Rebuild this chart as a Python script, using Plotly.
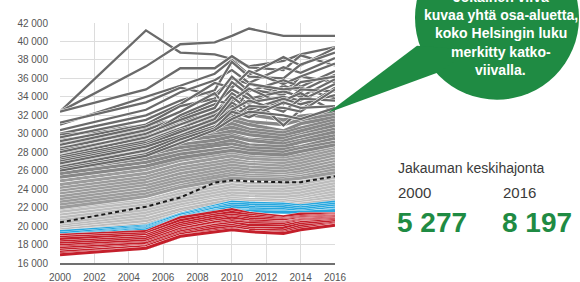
import plotly.graph_objects as go

# ---------------- data (values in thousand euros) ----------------
years = [2000, 2005, 2007, 2009, 2010, 2011, 2013, 2014, 2016]

helsinki = [20.4, 22.1, 23.1, 24.7, 24.95, 24.85, 24.75, 24.75, 25.4]

dark_lines = [
    [32.4, 41.2, 38.8, 38.6, 38.1, 37.3, 37.9, 38.6, 39.4],
    [32.4, 37.3, 39.7, 39.9, 40.6, 41.4, 40.6, 40.6, 40.6],
    [32.4, 34.8, 37.1, 37.1, 38.4, 37.2, 36.9, 38.5, 37.4],
    [31.0, 34.0, 35.2, 36.5, 38.0, 36.4, 38.3, 37.4, 39.3],
    [31.2, 33.4, 35.0, 34.2, 36.0, 35.4, 34.4, 36.2, 35.6],
    [30.4, 32.6, 34.5, 35.8, 36.9, 35.5, 37.2, 36.6, 38.2],
    [30.0, 32.0, 33.6, 34.7, 37.8, 36.2, 36.0, 37.5, 38.8],
    [29.9, 30.6, 31.4, 32.2, 34.4, 33.2, 35.2, 34.6, 36.4],
    [29.6, 31.5, 33.2, 35.5, 35.0, 36.8, 35.4, 36.2, 37.6],
    [29.2, 31.0, 33.0, 33.8, 36.2, 34.6, 35.8, 35.1, 36.8],
    [28.8, 30.8, 32.4, 34.4, 32.1, 34.8, 34.2, 35.6, 36.2],
    [28.4, 30.4, 31.8, 33.2, 34.8, 33.8, 34.6, 34.0, 35.9],
    [28.2, 29.8, 32.0, 33.6, 33.2, 35.4, 34.8, 35.0, 33.8],
    [28.0, 30.0, 31.5, 32.8, 35.6, 34.2, 30.9, 32.6, 35.0],
    [27.6, 29.6, 31.0, 32.4, 33.6, 34.9, 33.2, 34.8, 34.6],
    [27.4, 29.2, 30.6, 32.0, 33.0, 33.4, 34.0, 33.6, 35.4],
    [27.2, 29.0, 30.4, 31.4, 33.4, 32.2, 33.6, 34.4, 32.4],
    [27.0, 28.8, 30.2, 31.6, 34.0, 32.6, 33.8, 33.2, 34.2],
    [26.8, 28.6, 29.8, 31.2, 32.6, 33.6, 32.4, 33.8, 33.6],
    [26.4, 28.2, 29.6, 30.8, 31.8, 33.0, 32.8, 32.4, 34.8],
    [26.2, 27.8, 29.4, 30.6, 32.4, 31.8, 33.4, 32.8, 33.0],
    [26.0, 27.6, 29.0, 30.4, 31.6, 32.4, 32.0, 31.6, 32.8],
]

middark_lines = [
    [29.8, 30.9, 31.5, 31.9, 32.6, 32.1, 31.5, 31.9, 32.3],
    [29.3, 30.3, 31.1, 31.6, 31.9, 31.3, 31.0, 31.5, 32.1],
    [28.9, 30.1, 30.5, 31.2, 31.5, 31.0, 30.3, 31.1, 31.8],
    [28.5, 29.5, 30.3, 30.5, 31.1, 30.5, 30.1, 30.6, 31.5],
    [28.0, 29.3, 29.9, 30.3, 30.7, 30.2, 29.8, 30.3, 31.2],
    [27.6, 28.9, 29.5, 29.9, 30.3, 29.9, 29.5, 29.9, 30.9],
    [27.3, 28.4, 29.3, 29.7, 29.9, 29.4, 29.2, 29.7, 30.5],
    [26.8, 28.1, 28.8, 29.3, 29.7, 29.3, 28.9, 29.3, 30.2],
    [26.5, 27.7, 28.5, 28.9, 29.3, 28.8, 28.6, 29.1, 29.8],
    [26.1, 27.3, 28.1, 28.7, 28.9, 28.5, 28.3, 28.6, 29.5],
    [25.7, 26.9, 27.8, 28.3, 28.5, 28.2, 28.0, 28.4, 29.1],
    [25.3, 26.5, 27.4, 27.9, 28.2, 27.9, 27.7, 28.1, 28.8],
]

mid_lines = [
    [24.9, 26.1, 27.1, 27.6, 27.9, 27.6, 27.4, 27.7, 28.5],
    [24.5, 25.7, 26.7, 27.3, 27.6, 27.3, 27.1, 27.4, 28.2],
    [24.1, 25.3, 26.3, 26.9, 27.2, 26.9, 26.8, 27.1, 27.9],
    [23.8, 25.0, 26.0, 26.6, 26.9, 26.7, 26.5, 26.8, 27.6],
    [23.5, 24.7, 25.7, 26.3, 26.6, 26.4, 26.2, 26.5, 27.3],
    [23.2, 24.4, 25.3, 26.0, 26.3, 26.1, 25.9, 26.2, 27.0],
    [22.9, 24.1, 25.0, 25.7, 26.0, 25.8, 25.6, 25.9, 26.7],
    [22.6, 23.8, 24.7, 25.4, 25.7, 25.5, 25.4, 25.6, 26.4],
    [22.3, 23.5, 24.4, 25.2, 25.5, 25.3, 25.2, 25.4, 26.1],
    [22.0, 23.2, 24.2, 24.9, 25.2, 25.1, 25.0, 25.2, 25.8],
]

light_lines = [
    [21.8, 22.8, 23.8, 24.5, 24.8, 24.6, 24.6, 24.8, 25.5],
    [21.5, 22.6, 23.5, 24.2, 24.5, 24.3, 24.3, 24.5, 25.2],
    [21.2, 22.3, 23.2, 23.9, 24.2, 24.0, 24.0, 24.2, 24.9],
    [20.9, 22.0, 22.9, 23.6, 23.9, 23.8, 23.7, 23.9, 24.6],
    [20.6, 21.7, 22.6, 23.3, 23.6, 23.5, 23.4, 23.6, 24.3],
    [20.3, 21.4, 22.3, 23.0, 23.3, 23.2, 23.1, 23.3, 24.0],
    [20.0, 21.1, 22.0, 22.8, 23.0, 22.9, 22.8, 23.0, 23.7],
    [19.8, 20.8, 21.8, 22.5, 22.8, 22.7, 22.6, 22.8, 23.4],
    [19.6, 20.5, 21.5, 22.3, 22.6, 22.5, 22.4, 22.6, 23.1],
    [19.4, 20.2, 21.3, 22.1, 22.4, 22.3, 22.2, 22.4, 22.8],
]

blue_lines = [
    [19.4, 20.0, 21.3, 22.2, 22.6, 22.5, 22.4, 22.2, 22.6],
    [19.2, 19.9, 21.2, 22.0, 22.4, 22.3, 22.2, 22.0, 22.4],
    [19.0, 19.8, 21.0, 21.9, 22.2, 22.1, 22.0, 21.8, 22.2],
    [18.9, 19.7, 20.9, 21.7, 22.0, 21.9, 21.8, 21.6, 22.0],
    [18.5, 19.5, 20.8, 21.5, 21.8, 21.7, 21.6, 21.4, 21.8],
    [18.7, 19.6, 20.8, 21.6, 21.7, 21.6, 21.5, 21.5, 21.7],
]

red_lines = [
    [19.0, 19.4, 20.9, 21.5, 21.8, 21.4, 21.0, 21.3, 21.3],
    [18.8, 19.2, 20.6, 21.2, 21.5, 21.2, 20.8, 21.0, 21.2],
    [18.6, 19.0, 20.3, 21.0, 21.2, 21.0, 20.7, 20.9, 21.1],
    [18.3, 18.8, 20.1, 20.8, 21.0, 20.8, 20.6, 20.8, 21.0],
    [18.1, 18.6, 19.9, 20.6, 20.9, 20.6, 20.4, 20.7, 20.9],
    [17.9, 18.4, 19.7, 20.4, 20.6, 20.4, 20.3, 20.6, 20.8],
    [17.7, 18.2, 19.5, 20.2, 20.5, 20.3, 20.2, 20.5, 20.7],
    [17.6, 18.1, 19.4, 20.1, 20.3, 20.1, 20.0, 20.4, 20.6],
    [17.4, 17.9, 19.2, 19.9, 20.1, 19.8, 19.8, 20.2, 20.5],
    [17.2, 17.8, 19.1, 19.7, 19.9, 19.6, 19.5, 20.0, 20.3],
    [17.0, 17.6, 18.9, 19.5, 19.7, 19.4, 19.3, 19.8, 20.2],
    [16.9, 17.6, 18.9, 19.4, 19.6, 19.4, 19.2, 19.6, 20.1],
]

x_ticks = [2000, 2002, 2004, 2006, 2008, 2010, 2012, 2014, 2016]
x_tick_labels = ["2000", "2002", "2004", "2006", "2008", "2010", "2012", "2014", "2016"]
y_ticks = [16000, 18000, 20000, 22000, 24000, 26000, 28000, 30000, 32000,
           34000, 36000, 38000, 40000, 42000]
y_tick_labels = ["16 000", "18 000", "20 000", "22 000", "24 000", "26 000", "28 000",
                 "30 000", "32 000", "34 000", "36 000", "38 000", "40 000", "42 000"]

bubble_lines = ["Jokainen viiva", "kuvaa yhtä osa-aluetta,", "koko Helsingin luku",
                "merkitty katko-", "viivalla."]
sd_title = "Jakauman keskihajonta"
sd_years = ["2000", "2016"]
sd_values = ["5 277", "8 197"]

# ---------------- figure ----------------
W, H = 580, 282
ML = 60
MT = 23.3
PLOT_BOTTOM = 263.3
PLOT_RIGHT = 335
MB = H - PLOT_BOTTOM
MR = W - PLOT_RIGHT
PW, PH = PLOT_RIGHT - ML, PLOT_BOTTOM - MT

def px(x):  # window pixel -> paper
    return (x - ML) / PW

def py(y):
    return (PLOT_BOTTOM - y) / PH

GREEN = "#1f8b43"
FONT = "Liberation Sans, Arial, sans-serif"

fig = go.Figure()

def add_line(vals, color, width, halo=0.6, dash=None):
    ys = [v * 1000 for v in vals]
    if halo:
        fig.add_trace(go.Scatter(x=years, y=ys, mode="lines",
                                 line=dict(color="white", width=width + halo),
                                 hoverinfo="skip", showlegend=False))
    fig.add_trace(go.Scatter(x=years, y=ys, mode="lines",
                             line=dict(color=color, width=width, dash=dash),
                             hoverinfo="skip", showlegend=False))

for v in light_lines:
    add_line(v, "#bdbdbd", 3.2)
for v in mid_lines:
    add_line(v, "#9c9c9c", 3.2)
for v in middark_lines:
    add_line(v, "#878787", 3.4)
for v in dark_lines:
    add_line(v, "#6a6a6a", 2.3, halo=1.0)
add_line(helsinki, "#1a1a1a", 2.0, halo=0, dash="4px,3px")
for v in blue_lines:
    add_line(v, "#27a7de", 3.0)
for v in red_lines:
    add_line(v, "#c41f2b", 3.0)

# speech bubble
shapes = [
    dict(type="circle", xref="paper", yref="paper",
         x0=px(415), x1=px(579), y0=py(100), y1=py(-64),
         fillcolor=GREEN, line=dict(width=0), layer="above"),
    dict(type="path", xref="paper", yref="paper",
         path=f"M {px(328)},{py(113)} L {px(417)},{py(46)} L {px(470)},{py(50)} "
              f"L {px(440)},{py(72)} Z",
         fillcolor=GREEN, line=dict(width=0), layer="above"),
]

bubble_y = [-2.5, 15, 33.5, 52, 70.5]
annotations = []
for t, yy in zip(bubble_lines, bubble_y):
    annotations.append(dict(
        text=t, xref="paper", yref="paper", x=px(501), y=py(yy),
        xanchor="center", yanchor="middle", showarrow=False,
        font=dict(family=FONT, size=14, color="white", weight="bold")))

annotations.append(dict(text=sd_title, xref="paper", yref="paper", x=px(396), y=py(168),
                        xanchor="left", yanchor="middle", showarrow=False,
                        font=dict(family=FONT, size=14, color="#3a3a3a")))
for i, (yr, val) in enumerate(zip(sd_years, sd_values)):
    xx = [396, 501][i]
    annotations.append(dict(text=yr, xref="paper", yref="paper", x=px(xx), y=py(193),
                            xanchor="left", yanchor="middle", showarrow=False,
                            font=dict(family=FONT, size=15, color="#3a3a3a")))
    annotations.append(dict(text=val, xref="paper", yref="paper", x=px(xx - 1), y=py(223),
                            xanchor="left", yanchor="middle", showarrow=False,
                            font=dict(family=FONT, size=28, color=GREEN, weight="bold")))

fig.update_layout(
    width=W, height=H,
    margin=dict(l=ML, r=MR, t=MT, b=MB, autoexpand=False),
    paper_bgcolor="white", plot_bgcolor="white",
    showlegend=False,
    shapes=shapes, annotations=annotations,
    font=dict(family=FONT),
    xaxis=dict(range=[2000, 2016], tickvals=x_ticks, ticktext=x_tick_labels,
               showgrid=True, gridcolor="#dcdcdc", gridwidth=1,
               showline=True, linecolor="#707070", linewidth=2,
               zeroline=False, ticks="", ticklabelstandoff=4,
               tickfont=dict(size=10, color="#555555", family=FONT),
               fixedrange=True),
    yaxis=dict(range=[16000, 42000], tickvals=y_ticks, ticktext=y_tick_labels,
               showgrid=True, gridcolor="#dcdcdc", gridwidth=1,
               showline=False, zeroline=False, ticks="", ticklabelstandoff=11,
               tickfont=dict(size=10, color="#555555", family=FONT),
               fixedrange=True),
)

fig.write_html("out.html", config={"displayModeBar": False},
               post_script="document.body.style.margin='0px';"
                           "document.body.style.overflow='hidden';")
